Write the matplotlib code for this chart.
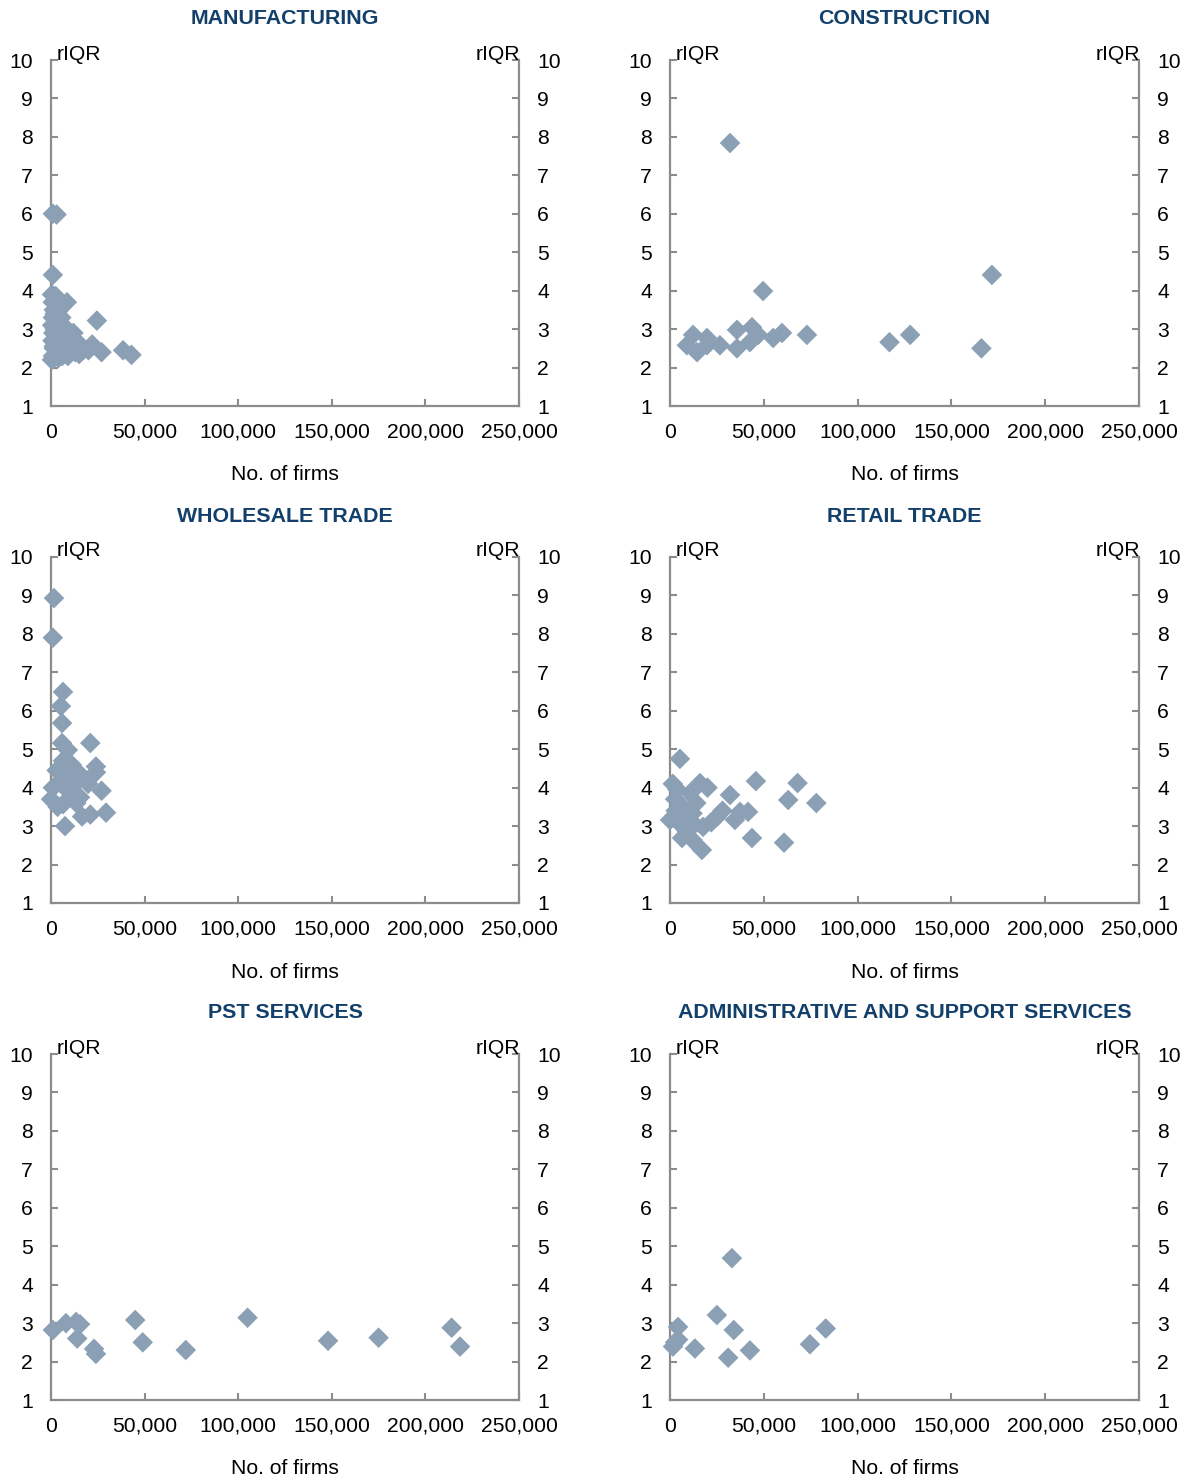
import matplotlib
matplotlib.use("Agg")
import matplotlib.pyplot as plt

plt.rcParams['font.family'] = ['Liberation Sans', 'DejaVu Sans']

titles = ["MANUFACTURING", "CONSTRUCTION", "WHOLESALE TRADE", "RETAIL TRADE",
          "PST SERVICES", "ADMINISTRATIVE AND SUPPORT SERVICES"]

manuf_x = [1000, 3000, 1000, 500, 1000, 1500, 800, 1200, 600, 1000, 1500, 900, 2500, 3500, 4500,
           8500, 2000, 3000, 4000, 5000, 6000, 7000, 8000, 9500, 11000, 13000, 15000, 17000,
           12000, 15500, 2000, 3000, 4000, 5000, 6000, 7000, 3000, 2000, 5500, 2500, 9000,
           4000, 6500, 8000, 24500, 22000, 27000, 38500, 43000, 20000, 1500, 500,
           3500, 5000, 7500, 10000, 2500, 4500, 6000, 9000, 11500, 1500, 3000, 5000]
manuf_y = [6.0, 5.98, 4.41, 2.2, 2.3, 2.5, 2.7, 2.9, 3.1, 3.3, 3.5, 3.7, 3.86, 3.75, 3.6,
           3.7, 3.4, 3.2, 3.0, 2.9, 2.8, 2.7, 2.6, 2.5, 2.45, 2.4, 2.35, 2.45,
           2.9, 2.6, 2.3, 2.5, 2.7, 2.4, 2.3, 2.5, 2.8, 3.0, 3.3, 2.6, 2.3,
           2.25, 3.1, 2.4, 3.22, 2.6, 2.4, 2.45, 2.33, 2.45, 2.25, 3.9,
           3.45, 3.15, 2.9, 2.65, 2.95, 2.6, 2.55, 2.7, 2.55, 2.55, 2.35, 2.75]

constr_x = [32000, 49600, 171600, 73000, 35700, 43700, 47000, 59700, 55000, 35700, 42600,
            26600, 19700, 14400, 12300, 9000, 19700, 117000, 128000, 166000]
constr_y = [7.84, 3.99, 4.41, 2.85, 2.98, 3.05, 2.85, 2.9, 2.77, 2.5, 2.66,
            2.58, 2.58, 2.4, 2.85, 2.58, 2.77, 2.66, 2.85, 2.5]

whole_x = [1600, 1000, 6400, 5300, 5900, 5900, 9000, 21000, 24000, 24000, 27000, 29400,
           21000, 16600, 7500, 1000, 0, 3000, 6400, 11000, 15500, 12800, 19800, 11000,
           6400, 15500, 4800, 8500, 3500, 13500, 9500]
whole_y = [8.93, 7.9, 6.49, 6.12, 5.68, 5.16, 4.98, 5.16, 4.55, 4.4, 3.92, 3.35,
           3.3, 3.25, 3.0, 4.0, 3.7, 4.45, 4.7, 4.6, 4.35, 4.1, 4.1, 3.75,
           3.57, 3.75, 4.13, 4.3, 3.5, 3.6, 3.9]

retail_x = [5300, 45800, 68000, 63000, 78000, 43700, 60800, 37300, 32000, 41600, 34600,
            17000, 6400, 12000, 1500, 0, 20000, 16000, 10700, 25000, 17600, 7000, 12000,
            2700, 5300, 9000, 28000, 4000, 14000, 22000, 3000, 8000, 13000]
retail_y = [4.75, 4.17, 4.12, 3.68, 3.6, 2.69, 2.57, 3.37, 3.81, 3.37, 3.16,
            2.38, 2.69, 2.64, 4.1, 3.16, 4.0, 4.12, 3.86, 3.24, 2.98, 3.5, 3.33,
            3.7, 3.06, 2.85, 3.4, 3.95, 3.6, 3.1, 3.4, 3.25, 3.05]

pst_x = [1000, 8000, 13400, 15500, 14000, 23000, 24000, 45000, 49000, 72000, 105000,
         148000, 175000, 214000, 218500]
pst_y = [2.82, 3.0, 3.03, 2.97, 2.6, 2.33, 2.2, 3.08, 2.5, 2.3, 3.14,
         2.54, 2.62, 2.88, 2.39]

admin_x = [33000, 25000, 34000, 4300, 4300, 1600, 13300, 31000, 42600, 74600, 83000, 2700]
admin_y = [4.69, 3.21, 2.82, 2.9, 2.57, 2.39, 2.34, 2.1, 2.29, 2.45, 2.86, 2.5]

series = [(manuf_x, manuf_y), (constr_x, constr_y), (whole_x, whole_y),
          (retail_x, retail_y), (pst_x, pst_y), (admin_x, admin_y)]

x_ticks = [0, 50000, 100000, 150000, 200000, 250000]
x_labels = ["0", "50,000", "100,000", "150,000", "200,000", "250,000"]
y_ticks = list(range(1, 11))

W, H = 1190, 1481
fig = plt.figure(figsize=(W / 100, H / 100), dpi=100)

col_left = [(51, 468), (670, 469)]
row_tb = [(60, 406), (557, 903), (1054, 1400)]

spine_c = '#8C8C8C'
mk_c = '#8BA0B5'
title_c = '#13406B'
fs = 15.2
tfs = 15.4

for i, (xs, ys) in enumerate(series):
    r, c = divmod(i, 2)
    lx, w = col_left[c]
    top, bot = row_tb[r]
    ax = fig.add_axes([lx / W, 1 - bot / H, w / W, (bot - top) / H])
    ax.scatter(xs, ys, marker='D', s=110, color=mk_c, edgecolors='none', zorder=3, clip_on=False)
    ax.set_xlim(0, 250000)
    ax.set_ylim(1, 10)
    ax.set_xticks(x_ticks)
    ax.set_xticklabels(x_labels)
    ax.set_yticks(y_ticks)
    ax.spines['top'].set_visible(False)
    for s in ['left', 'right', 'bottom']:
        ax.spines[s].set_color(spine_c)
        ax.spines[s].set_linewidth(1.6)
    ax.tick_params(axis='y', which='both', direction='in', length=5, width=1.5, color=spine_c,
                   left=True, right=True, labelleft=True, labelright=True, pad=13, labelsize=fs)
    ax.tick_params(axis='x', direction='in', length=5, width=1.5, color=spine_c, pad=12, labelsize=fs)
    ax.patch.set_alpha(0)
    hh = bot - top
    ax.text(0.013, 1 + 6 / hh, 'rIQR', transform=ax.transAxes, ha='left', va='center', fontsize=fs)
    ax.text(1.003, 1 + 6 / hh, 'rIQR', transform=ax.transAxes, ha='right', va='center', fontsize=fs)
    ax.text(0.5, 1 + 41 / hh, titles[i], transform=ax.transAxes, ha='center', va='center',
            fontsize=tfs, fontweight='bold', color=title_c)
    ax.text(0.5, -69 / hh, 'No. of firms', transform=ax.transAxes, ha='center', va='center', fontsize=fs)

fig.savefig('out.png', dpi=100)
